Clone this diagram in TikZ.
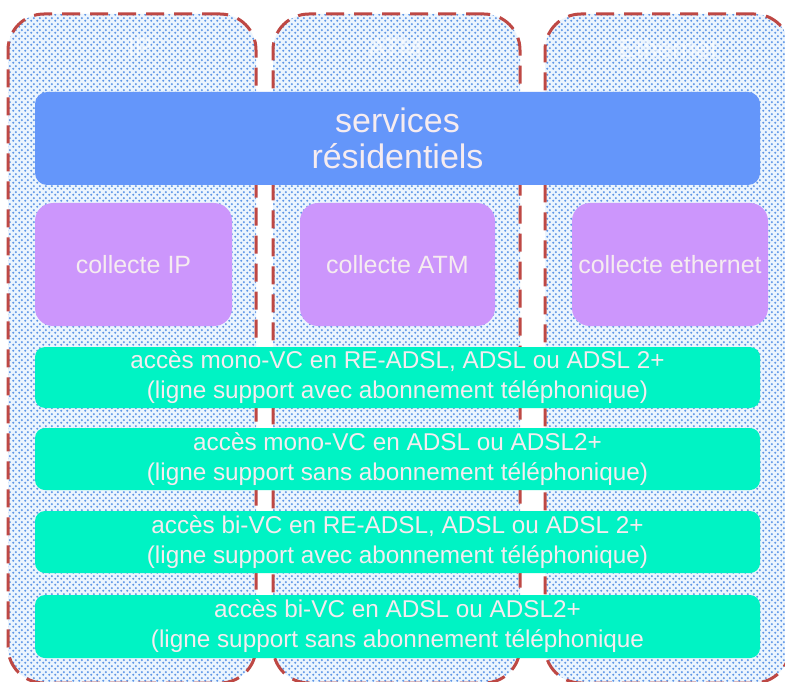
\documentclass[tikz,border=0pt]{standalone}
\usepackage{fontspec}
\setmainfont{Liberation Sans}
\usetikzlibrary{patterns}
\pgfdeclarepatternformonly{bluedots}{\pgfpoint{0pt}{0pt}}{\pgfpoint{6pt}{6pt}}{\pgfpoint{6pt}{6pt}}{%
  \pgfpathcircle{\pgfpoint{1.5pt}{1.5pt}}{1.3pt}%
  \pgfpathcircle{\pgfpoint{4.5pt}{4.5pt}}{1.3pt}%
  \pgfusepath{fill}}
\definecolor{colbg}{RGB}{236,245,254}
\definecolor{dotc}{RGB}{95,150,230}
\definecolor{dashc}{RGB}{190,72,68}
\definecolor{svcblue}{RGB}{100,150,250}
\definecolor{purp}{RGB}{204,150,252}
\definecolor{teal}{RGB}{0,243,196}
\definecolor{txt}{RGB}{246,236,240}
\tikzset{
  colbox/.style={draw=dashc, line width=3pt, dash pattern=on 18pt off 10pt,
    rounded corners=36pt, preaction={fill=colbg}, pattern=bluedots, pattern color=dotc,
    minimum height=669pt, inner sep=0pt},
  hdr/.style={text=white, opacity=0.6, font=\fontsize{26}{30}\selectfont},
  svcbox/.style={fill=svcblue, rounded corners=12pt, minimum width=725pt, minimum height=93pt,
    text=txt, align=center, inner sep=0pt, font=\fontsize{34}{36}\selectfont},
  collbox/.style={fill=purp, rounded corners=18pt, minimum height=123pt,
    text=txt, align=center, inner sep=0pt, font=\fontsize{25}{28}\selectfont},
  accbox/.style={fill=teal, rounded corners=10pt, minimum width=725pt, minimum height=62pt,
    text=txt, align=center, inner sep=0pt, font=\fontsize{24.3}{30}\selectfont},
}
\begin{document}
\begin{tikzpicture}[x=1pt,y=-1pt]
\useasboundingbox (0,0) rectangle (785,682);
\clip (0,0) rectangle (785,682);
\fill[white] (0,0) rectangle (785,682);
% columns
\node[colbox, minimum width=248pt] (c1) at (132,348.5) {};
\node[colbox, minimum width=247pt] (c2) at (396.5,348.5) {};
\node[colbox, minimum width=245pt] (c3) at (667.5,348.5) {};
\node[hdr] (h1) at (140,48) {IP};
\node[hdr] (h2) at (395,48) {ATM};
\node[hdr] (h3) at (668,48) {Ethernet};
% services
\node[svcbox] (svc) at (397.5,138.5) {services\\résidentiels};
% collecte
\node[collbox, minimum width=197pt] (ip) at (133.5,264.5) {collecte IP};
\node[collbox, minimum width=195pt] (atm) at (397.5,264.5) {collecte ATM};
\node[collbox, minimum width=196pt] (eth) at (670,264.5) {collecte ethernet};
% accès
\node[accbox, minimum height=61pt] (a1) at (397.5,377.5) {accès mono-VC en RE-ADSL, ADSL ou ADSL 2+\\(ligne support  avec abonnement téléphonique)};
\node[accbox] (a2) at (397.5,459) {accès mono-VC en ADSL ou ADSL2+\\(ligne support  sans abonnement téléphonique)};
\node[accbox] (a3) at (397.5,542) {accès bi-VC en RE-ADSL, ADSL ou ADSL 2+\\(ligne support avec abonnement téléphonique)};
\node[accbox, minimum height=63pt] (a4) at (397.5,626.5) {accès bi-VC en ADSL ou ADSL2+\\(ligne support  sans abonnement téléphonique};
\end{tikzpicture}
\end{document}
